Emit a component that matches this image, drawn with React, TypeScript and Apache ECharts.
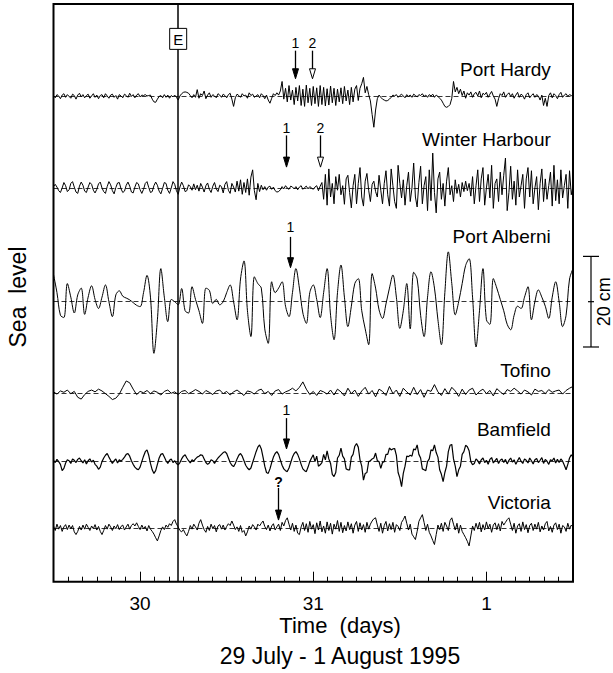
import React, { useEffect, useRef } from 'react';
import * as echarts from 'echarts';

// ---- axes ----
const X_MIN = 29.5;
const X_MAX = 32.5;
const MINOR_STEP = 1 / 12; // 2-hour ticks
const MAJOR_DAYS = [30, 31, 32];
const MAJOR_LABELS = ['30', '31', '1'];
const Y_MAX_MM = 1275;
const E_TIME = 30.22;

// ---- stations ----
const STATIONS = ['Port Hardy', 'Winter Harbour', 'Port Alberni', 'Tofino', 'Bamfield', 'Victoria'];
const OFFSETS_MM = [1071, 869, 618, 417, 265, 119];
const LABEL_Y_MM = [1130, 975, 761, 467, 335, 174];
const LABEL_T = 32.372;
const START_T = 29.5;
const STEPS = [0.01, 0.01, 0.02, 0.02, 0.01, 0.01];
const SMOOTH = [0, 0, 0.35, 0, 0, 0];
const LINE_W = [1, 1, 1, 1, 1.2, 1];

// sea-level residuals in mm
const portHardy = [
  2, -3, 4, 1, -5, 3, 6, -2, 4, 0,
  -4, 5, 2, -6, 3, 7, -1, 4, -3, 2,
  5, -4, 1, 6, -2, 3, -5, 2, 4, -3,
  6, 1, -4, 3, 5, -2, 2, -6, 4, 1,
  -3, 5, 2, -2, 7, 0, 4, -3, 3, 6,
  -1, 3, 2, 4, 1, 2, 3, -6, -12, -13,
  -6, 0, 2, -3, 4, -2, 3, -4, 2, -1,
  3, -2, -8, 1, 6, 9, 10, 9, 7, 2,
  -3, 4, -2, 15, -4, 6, 2, 12, -5, 3,
  8, -2, 4, 1, -3, 6, 3, -2, 5, 2,
  -3, 4, 7, -6, -22, -3, 5, 2, -2, 6,
  1, 3, -4, 8, 2, 5, -2, 1, 4, -3,
  6, 2, -5, 3, -8, -15, -4, 6, 2, 8,
  3, 12, 33, -6, 18, -12, 24, -8, 14, -18,
  20, -10, 24, -20, 16, -22, 25, -14, 18, -20,
  22, -16, 19, -22, 24, -18, 20, -21, 17, -19,
  23, -14, 18, -20, 16, -12, 19, -16, 22, -10,
  14, -18, 20, -12, 16, 24, -9, 18, 28, 42,
  8, 22, 4, -10, -40, -68, -30, -5, 3, -2,
  -6, -8, -10, -9, -6, -2, 3, 1, 4, -2,
  2, 5, 1, -3, 4, 0, 3, -2, 5, 2,
  -1, 4, 2, 6, 0, 3, -2, 4, 1, 5,
  -2, 3, 0, -4, -8, -15, -22, -24, -22, -18,
  -4, 33, 10, 20, 6, 16, 2, 12, -4, 8,
  3, 10, -2, 6, 9, 1, 12, -3, 7, 4,
  9, -2, 5, 11, 1, -6, -22, -5, 6, 2,
  10, -2, 4, 8, 0, 6, -4, 3, 9, -2,
  5, 2, -6, 4, 8, -3, 2, 6, -2, 4,
  1, -8, 3, -20, -4, -22, 2, 8, -3, 6,
  2, -5, 4, 9, -2, 3, 6, 0, 4, 2,
  0,
];

const winterHarbour = [
  3, 8, 2, -6, -10, 0, 12, 5, -8, -4,
  10, 14, 2, -9, -12, 4, 13, 6, -7, -10,
  2, 12, 8, -5, -11, -3, 9, 13, 0, -8,
  -12, 3, 14, 7, -6, -13, 1, 11, 12, -2,
  -10, -7, 6, 13, 4, -9, -11, 2, 12, 9,
  -4, -12, -3, 10, 14, 1, -10, -8, 5, 13,
  6, -7, -13, -1, 12, 10, -5, -12, 0, 14,
  8, -6, -14, 2, 13, 5, -8, -6, 7, 3,
  -5, 9, -4, 6, -7, 10, 2, -9, 5, 11,
  -3, -10, 4, 12, -2, -8, 6, 3, -11, 8,
  14, -5, -12, 10, 2, -9, 15, -7, 18, -14,
  12, -10, 20, -16, 24, 40, -6, -26, 10, -8,
  6, -4, 3, -5, 2, 4, -3, 2, -6, -9,
  -8, -4, 3, -2, 5, 0, -3, 4, 2, -2,
  3, -4, 2, 5, -3, 1, 4, -2, 3, 0,
  -3, 2, 5, -6, 4, 12, -25, 30, -38, 42,
  -20, 10, -35, 25, -5, 30, -15, 5, -36, 20,
  28, -10, -44, 5, 30, -35, 10, 45, -20, -40,
  15, 32, -5, -30, 8, 15, -8, -20, 28, -5,
  -35, 10, 38, -15, -40, 42, 5, -30, -45, 50,
  10, -22, 18, -38, 5, 35, -30, 0, 55, -20,
  -42, 12, 48, -35, 5, 25, -50, 40, -28, 77,
  -10, -55, 20, 35, -25, 10, -40, 15, 45, -15,
  5, -30, 18, -12, 8, -20, 12, -8, 15, -6,
  10, -18, 25, -35, 5, 40, -30, 20, 45, -38,
  0, 30, -22, 50, -45, 10, 20, -30, 35, -15,
  28, 66, -50, -10, 48, -25, 15, -38, 40, -20,
  5, 30, -45, 20, 45, -20, 38, -35, 0, 25,
  -48, 10, 42, -30, 20, -25, 5, 35, -40, 50,
  -28, 18, -35, 40, -22, 5, 30, -45, 38, -15,
  5,
];

const portAlberni = [
  60, 20, -30, -35, 40, 10, -25, 15, 30, -28,
  10, 35, 5, -15, 10, 37, 0, -33, 15, 24,
  12, 8, 4, -2, -8, -11, 20, 58, 10, -114,
  -40, 73, 10, -44, 5, 0, -7, 29, -20, -25,
  33, 5, -20, -48, 30, 25, -4, 5, -7, 0,
  20, 37, 0, -40, 50, 90, -20, -77, 55, 40,
  30, -60, -92, 44, 20, 30, 44, -10, -33, 20,
  73, 30, -25, -48, 20, 37, 5, -35, 20, 73,
  -30, -84, 20, 81, 10, -55, -10, 40, 51, -20,
  -60, -95, 62, 30, -18, -37, -5, 30, 59, 10,
  -59, -20, 40, -60, 65, 50, -30, -77, 10, 66,
  30, -40, -95, 20, 110, 40, -29, 0, 40, 80,
  95, 10, -100, -20, 73, -40, -50, 51, 30, 5,
  -20, -50, -62, -30, -10, -15, 10, 33, -40, 0,
  26, 10, -10, -37, 10, 44, 0, -55, -30, 50,
  73,
];

const tofino = [
  2, -3, 4, 1, 6, -2, 3, -10, -14, -4,
  3, 6, 2, 8, 4, -2, -8, -15, -12, -3,
  12, 26, 22, 8, -4, 3, 0, 5, -2, 4,
  1, -5, 3, 6, -1, 2, -4, 3, 5, -2,
  2, 7, 3, -3, 5, 1, -4, 4, 6, -2,
  3, -5, 2, 6, 0, -6, 4, 2, -3, 5,
  8, -2, 3, -6, 4, 7, -3, 2, 5, 10,
  4, 12, 24, 8, -4, 3, -6, 5, 2, -3,
  6, -5, 8, 2, -7, 10, -2, 6, -8, 4,
  12, -3, 5, -9, 8, 3, -6, 14, -2, 6,
  -8, 10, 2, -5, 12, -4, 7, -10, 6, 3,
  18, 2, -6, 9, -3, 12, 4, -8, 8, -4,
  6, 10, -5, 3, 8, -2, 5, -7, 9, 2,
  -4, 7, 3, 10, 4, -3, 6, 2, -5, 8,
  3, 5, -2, 7, 1, 4, 6, -3, 5, 10,
  14,
];

const bamfield = [
  3, -2, 5, 0, -6, -20, -15, -3, 4, 2,
  -4, 6, 3, -2, 5, 8, 2, -3, 4, -5,
  2, 6, -1, 3, -6, -10, -17, -12, 0, 8,
  14, 18, 10, 3, -4, 2, 6, -3, 4, 1,
  5, 10, 16, 18, 12, 2, -6, -12, -16, -18,
  -12, 0, 12, 22, 26, 14, -4, -18, -26, -20,
  -6, 8, 16, 18, 10, 2, -4, 3, 6, -2,
  2, -4, -7, -2, 6, 12, 15, 8, 2, -3,
  4, 1, 6, 10, 12, 15, 14, 6, -2, -6,
  -3, 4, 2, -4, 3, 8, 12, 16, 20, 22,
  18, 8, -2, -8, -11, -4, 6, 14, 18, 12,
  2, -8, -14, -18, -14, -2, 10, 22, 32, 37,
  28, 10, -10, -24, -26, -16, -2, 10, 18, 22,
  16, 4, -8, -16, -20, -22, -14, -2, 10, 18,
  22, 16, 6, -6, -16, -20, -22, -12, 0, 8,
  15, 0, 12, -10, -7, -2, 16, 4, 24, 6,
  -4, -28, -33, -24, 8, 14, 30, 12, 6, -16,
  -18, -18, 10, 16, 34, 40, 32, 4, -10, -41,
  -26, -24, 0, 2, 6, 8, 19, 2, 0, -15,
  -2, 0, 16, 16, 30, 26, 28, 29, 14, -24,
  -36, -55, -26, -10, 12, 11, 14, 12, 28, 26,
  37, 16, 8, -16, -18, -20, 0, 6, 26, 24,
  37, 20, 10, -18, -28, -44, -24, -10, 22, 36,
  38, 6, -10, -33, -18, -10, 16, 22, 36, 33,
  24, 0, -7, -4, 6, 2, -5, 4, 8, -2,
  3, -6, 5, 9, -3, 2, 7, -4, 3, 6,
  -2, 5, -5, 3, 8, -1, 4, -6, 2, 9,
  1, -4, 6, 3, -3, 8, 2, -5, 4, 7,
  -2, 3, 9, -4, 5, 1, -6, 4, 2, 8,
  -3, 5, -2, 6, 1, -8, -18, -6, 8, 15,
  10,
];

const victoria = [
  4, -6, 8, -3, 5, -8, 2, 7, -4, 6,
  -2, 5, -9, -15, -8, 3, -5, 6, -3, 8,
  1, -6, 4, -2, 7, -5, 3, -8, -15, -6,
  5, -3, 8, 2, -6, 4, -2, 7, -4, 3,
  6, -5, 2, 8, -3, 5, 9, 4, 11, 3,
  -4, 6, -2, 3, -7, 5, -3, -8, -14, -22,
  -29, -18, -6, 2, -4, 6, 1, 9, 5, 14,
  18, 8, 2, -6, -9, -4, -12, -18, -8, 5,
  -3, 8, 2, -5, 10, 18, 6, -4, -10, 3,
  -6, 8, -2, 5, -9, 4, 7, -3, 6, -5,
  3, 9, 5, 15, 6, -4, 2, -8, 5, -10,
  -6, -18, -9, 4, -3, 7, 2, -5, 8, 4,
  10, 15, 3, -4, 6, -7, 4, 9, -5, 2,
  8, -6, 12, 4, 16, 22, 8, -5, 10, -8,
  6, -12, -15, 2, 12, -6, 9, -10, 14, -3,
  7, -13, 11, -5, 15, -9, 4, -12, 13, -6,
  10, -14, 8, -3, 16, -8, 12, -11, 5, -7,
  13, -4, 9, -12, 6, 14, -8, 11, -5, 7,
  -10, 12, -3, 8, 15, 20, 22, 6, -8, 10,
  -12, 5, 14, -7, 9, -4, 12, -10, 7, 3,
  -6, 12, 18, 26, 10, -5, 8, -14, -20, -26,
  -8, 14, 22, 29, 12, -6, 8, -10, -18, -28,
  -37, -15, 6, -4, 10, -8, 12, 4, -6, 16,
  22, 8, -5, 10, -12, 6, -8, -15, -22, -30,
  -40, -18, 4, -6, 10, -3, 12, -9, 7, -5,
  13, -2, 8, -10, 6, 11, -4, 9, -7, 14,
  6, 12, 18, 22, 8, -6, 10, -12, 4, 9,
  -8, 13, -4, 7, -11, 5, 10, -6, 8, -3,
  12, -9, 4, -5, 9, 14, -7, 3, -10, 6,
  11, -4, 8, -12, 5, 2, -8, 10, -3, 6,
  2,
];

const SERIES_VALUES = [portHardy, winterHarbour, portAlberni, tofino, bamfield, victoria];

// arrow annotations (time in days, heights in mm on the chart's scale)
const ARROWS = [
  { t: 30.894, label: '1', hollow: false, labelMM: 1189, topMM: 1172, tipMM: 1110 },
  { t: 30.991, label: '2', hollow: true, labelMM: 1189, topMM: 1172, tipMM: 1110 },
  { t: 30.841, label: '1', hollow: false, labelMM: 1001, topMM: 985, tipMM: 915 },
  { t: 31.039, label: '2', hollow: true, labelMM: 1001, topMM: 985, tipMM: 915 },
  { t: 30.866, label: '1', hollow: false, labelMM: 783, topMM: 761, tipMM: 693 },
  { t: 30.842, label: '1', hollow: false, labelMM: 379, topMM: 361, tipMM: 293 },
  { t: 30.794, label: '?', hollow: false, labelMM: 221, topMM: 207, tipMM: 136 },
];
const E_BOX_MM = 1198;
const SCALE_BAR_MM = 200; // 20 cm
const SCALE_STATION = 2;

const FONT = '"Liberation Sans", Arial, Helvetica, sans-serif';

export default function App() {
  const ref = useRef<HTMLDivElement>(null);

  useEffect(() => {
    if (!ref.current) return;
    const chart = echarts.init(ref.current, null, { renderer: 'svg' });

    const series = SERIES_VALUES.map((vals, s) => {
      const step = STEPS[s];
      const off = OFFSETS_MM[s];
      const markData: any[] = [
        { yAxis: off, lineStyle: { type: [5, 3], width: 0.8, color: '#000' } },
      ];
      if (s === 0) {
        markData.push({ xAxis: E_TIME, lineStyle: { type: 'solid', width: 1.5, color: '#000' } });
      }
      return {
        name: STATIONS[s],
        type: 'line',
        data: vals.map((v, i) => [START_T + i * step, off + v]),
        showSymbol: false,
        symbol: 'none',
        silent: true,
        smooth: SMOOTH[s] || false,
        lineStyle: { color: '#000', width: LINE_W[s] },
        z: 3,
        markLine: {
          silent: true,
          symbol: ['none', 'none'],
          label: { show: false },
          data: markData,
          z: 2,
        },
      };
    });

    const option: any = {
      animation: false,
      grid: {
        left: 53.5,
        right: 40,
        top: 4,
        bottom: 91.3,
        show: true,
        borderColor: '#000',
        borderWidth: 2,
        backgroundColor: 'transparent',
      },
      xAxis: [
        {
          type: 'value',
          min: X_MIN,
          max: X_MAX,
          interval: MINOR_STEP,
          position: 'bottom',
          axisLine: { show: false },
          splitLine: { show: false },
          axisTick: { show: true, inside: true, length: 5, lineStyle: { color: '#000', width: 1 } },
          axisLabel: { show: false },
        },
        {
          type: 'value',
          min: X_MIN,
          max: X_MAX,
          position: 'bottom',
          axisLine: { show: false },
          splitLine: { show: false },
          axisTick: {
            show: true,
            inside: true,
            length: 10,
            customValues: MAJOR_DAYS,
            lineStyle: { color: '#000', width: 1 },
          },
          axisLabel: {
            show: true,
            customValues: MAJOR_DAYS,
            margin: 12,
            color: '#000',
            fontSize: 19,
            fontFamily: FONT,
            formatter: (v: number) => {
              const r = Math.round(v);
              const k = MAJOR_DAYS.indexOf(r);
              return Math.abs(v - r) < 1e-6 && k >= 0 ? MAJOR_LABELS[k] : '';
            },
          },
        },
      ],
      yAxis: { type: 'value', min: 0, max: Y_MAX_MM, show: false },
      series,
    };

    chart.setOption(option);

    const px = (t: number, mm: number) => chart.convertToPixel({ seriesIndex: 0 }, [t, mm]) as number[];
    const g: any[] = [];

    // station labels
    STATIONS.forEach((name, s) => {
      const p = px(LABEL_T, LABEL_Y_MM[s]);
      g.push({
        type: 'text',
        x: p[0],
        y: p[1],
        z: 50,
        style: {
          text: name,
          fontSize: 19,
          fontFamily: FONT,
          fill: '#000',
          align: 'right',
          textAlign: 'right',
          verticalAlign: 'middle',
          textVerticalAlign: 'middle',
        },
      });
    });

    // E box
    const eP = px(E_TIME, E_BOX_MM);
    g.push({
      type: 'rect',
      z: 50,
      shape: { x: eP[0] - 8.5, y: eP[1] - 10.5, width: 17, height: 21 },
      style: { fill: '#fff', stroke: '#000', lineWidth: 1 },
    });
    g.push({
      type: 'text',
      z: 51,
      x: eP[0],
      y: eP[1] + 0.5,
      style: {
        text: 'E', fontSize: 15, fontFamily: FONT, fill: '#000',
        align: 'center', textAlign: 'center', verticalAlign: 'middle', textVerticalAlign: 'middle',
      },
    });

    // arrows
    ARROWS.forEach((a) => {
      const pl = px(a.t, a.labelMM);
      const pt = px(a.t, a.topMM);
      const pk = px(a.t, a.tipMM);
      const x = Math.round(pt[0]) + 0.5;
      const headH = 10;
      const headW = 3;
      g.push({
        type: 'line', z: 50,
        shape: { x1: x, y1: pt[1], x2: x, y2: pk[1] - headH + 1 },
        style: { stroke: '#000', lineWidth: 1.3 },
      });
      g.push({
        type: 'polygon', z: 50,
        shape: { points: [[x - headW, pk[1] - headH], [x + headW, pk[1] - headH], [x, pk[1]]] },
        style: { fill: a.hollow ? '#fff' : '#000', stroke: '#000', lineWidth: 1 },
      });
      g.push({
        type: 'text', z: 50,
        x: x, y: pl[1],
        style: {
          text: a.label, fontSize: 14, fontFamily: FONT, fill: '#000', fontWeight: a.label === '?' ? 'bold' : 'normal',
          align: 'center', textAlign: 'center', verticalAlign: 'middle', textVerticalAlign: 'middle',
        },
      });
    });

    // 20 cm scale bar right of the plot
    const off = OFFSETS_MM[SCALE_STATION];
    const sTop = px(X_MAX, off + SCALE_BAR_MM / 2);
    const sMid = px(X_MAX, off);
    const sBot = px(X_MAX, off - SCALE_BAR_MM / 2);
    const bx = sMid[0] + 18;
    g.push({ type: 'line', z: 50, shape: { x1: bx, y1: sTop[1], x2: bx, y2: sBot[1] }, style: { stroke: '#000', lineWidth: 1.2 } });
    g.push({ type: 'line', z: 50, shape: { x1: bx - 8, y1: sTop[1], x2: bx + 8, y2: sTop[1] }, style: { stroke: '#000', lineWidth: 1.2 } });
    g.push({ type: 'line', z: 50, shape: { x1: bx - 8, y1: sBot[1], x2: bx + 8, y2: sBot[1] }, style: { stroke: '#000', lineWidth: 1.2 } });
    g.push({ type: 'line', z: 50, shape: { x1: bx - 3, y1: sMid[1], x2: bx + 3, y2: sMid[1] }, style: { stroke: '#000', lineWidth: 1.2 } });
    g.push({
      type: 'text', z: 50, x: bx + 13, y: sMid[1], rotation: Math.PI / 2,
      style: {
        text: '20 cm', fontSize: 18, fontFamily: FONT, fill: '#000',
        align: 'center', textAlign: 'center', verticalAlign: 'middle', textVerticalAlign: 'middle',
      },
    });

    // axis titles
    const gridLeft = px(X_MIN, 0);
    g.push({
      type: 'text', z: 50, x: gridLeft[0] - 36, y: 297, rotation: Math.PI / 2,
      style: {
        text: 'Sea  level', fontSize: 23, fontFamily: FONT, fill: '#000',
        align: 'center', textAlign: 'center', verticalAlign: 'middle', textVerticalAlign: 'middle',
      },
    });
    g.push({
      type: 'text', z: 50, x: 340, y: 625,
      style: {
        text: 'Time  (days)', fontSize: 22, fontFamily: FONT, fill: '#000',
        align: 'center', textAlign: 'center', verticalAlign: 'middle', textVerticalAlign: 'middle',
      },
    });
    g.push({
      type: 'text', z: 50, x: 340, y: 656,
      style: {
        text: '29 July - 1 August 1995', fontSize: 23, fontFamily: FONT, fill: '#000',
        align: 'center', textAlign: 'center', verticalAlign: 'middle', textVerticalAlign: 'middle',
      },
    });

    chart.setOption({ graphic: { elements: g } });

    return () => {
      chart.dispose();
    };
  }, []);

  return (
    <div
      ref={ref}
      style={{ position: 'absolute', left: 0, top: 0, width: 613, height: 673, background: '#fff' }}
    />
  );
}
